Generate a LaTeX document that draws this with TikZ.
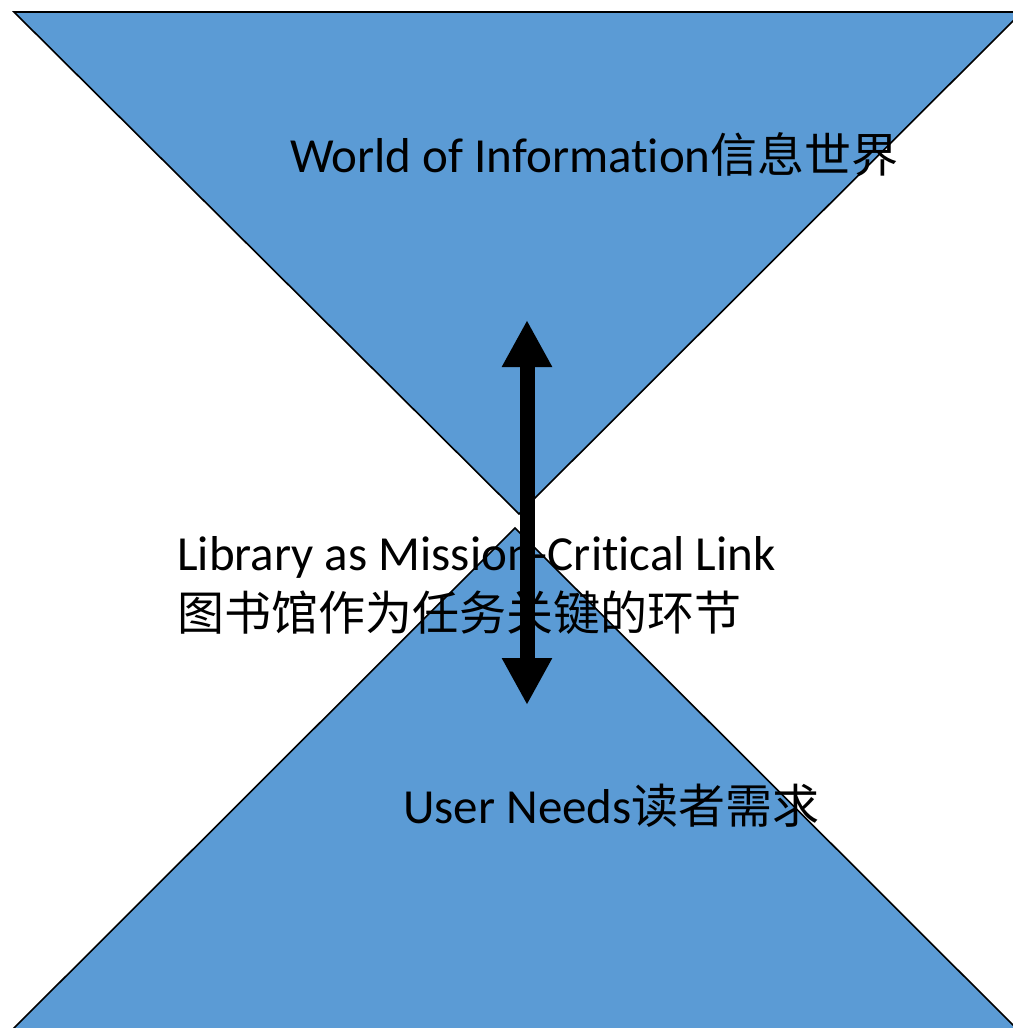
\documentclass[tikz,border=0pt]{standalone}
\usepackage{fontspec}
\setmainfont{Carlito}[Ligatures=NoCommon]
\newfontfamily\cjk{Noto Sans CJK SC}
\usetikzlibrary{positioning}
\usetikzlibrary{arrows.meta}

\definecolor{wedgeblue}{HTML}{5B9BD5}
\newcommand{\zh}[1]{{\cjk\fontsize{47}{60}\selectfont #1}}

\tikzset{
  wedge/.style={fill=wedgeblue,draw=black,line width=1.6pt,line join=miter},
  label/.style={inner sep=0pt,anchor=base west,font=\fontsize{49}{60}\selectfont},
  bigarrow/.style={line width=15pt,{Triangle[length=47pt,width=47pt]}-{Triangle[length=47pt,width=47pt]}}
}

\begin{document}
\begin{tikzpicture}[x=1pt,y=-1pt]
 \useasboundingbox (0,0) rectangle (1012,1028);
 % the two wedges
 \draw[wedge](14,12)--(1022,12)--(519,514)--cycle;
 \draw[wedge](515,528)--(1024,1036)--(6,1036)--cycle;
 % texts
 \node[label] (world) at (290,172) {World of Information\zh{信息世界}};
 \node[label] (link) at (177,570) {Library as Mission-Critical Link};
 \node[label] (linkzh) at ([yshift=-60pt]link.base west) {\zh{图书馆作为任务关键的环节}};
 \node[label] (user) at (403,823) {User Needs\zh{读者需求}};
 % the link arrow
 \coordinate (top) at (527,320);
 \coordinate (bottom) at (527,705);
 \draw[bigarrow] (top) -- (bottom);
\end{tikzpicture}
\end{document}
